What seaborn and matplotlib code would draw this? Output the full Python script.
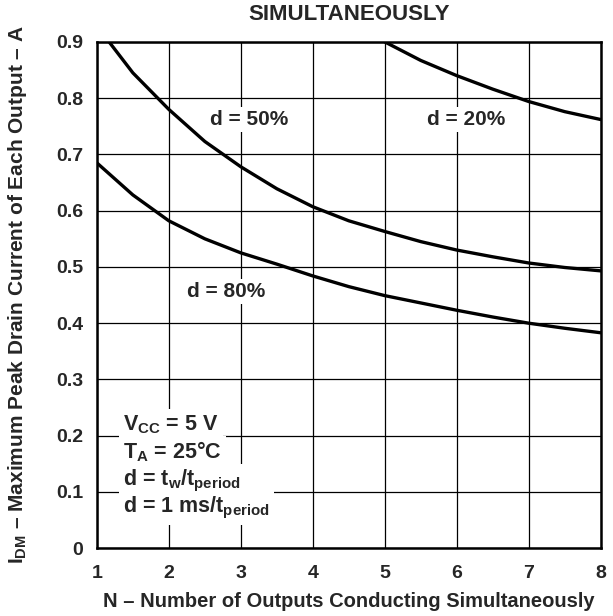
import pandas as pd
import matplotlib.pyplot as plt
import seaborn as sns

# ── DATA ──────────────────────────────────────────────────
n_20 = [5.0, 5.5, 6.0, 6.5, 7.0, 7.5, 8.0]
i_20 = [0.90, 0.867, 0.840, 0.816, 0.794, 0.776, 0.762]

n_50 = [1.17, 1.5, 2.0, 2.5, 3.0, 3.5, 4.0, 4.5, 5.0, 5.5, 6.0, 6.5, 7.0, 7.5, 8.0]
i_50 = [0.90, 0.845, 0.780, 0.723, 0.678, 0.639, 0.607, 0.582, 0.563, 0.545,
        0.530, 0.518, 0.507, 0.499, 0.493]

n_80 = [1.0, 1.5, 2.0, 2.5, 3.0, 3.5, 4.0, 4.5, 5.0, 5.5, 6.0, 6.5, 7.0, 7.5, 8.0]
i_80 = [0.685, 0.628, 0.582, 0.550, 0.525, 0.505, 0.484, 0.465, 0.449, 0.436,
        0.423, 0.411, 0.400, 0.391, 0.383]

x_ticks = [1, 2, 3, 4, 5, 6, 7, 8]
y_ticks = [0, 0.1, 0.2, 0.3, 0.4, 0.5, 0.6, 0.7, 0.8, 0.9]
y_ticklabels = ['0', '0.1', '0.2', '0.3', '0.4', '0.5', '0.6', '0.7', '0.8', '0.9']

df = pd.concat([
    pd.DataFrame({'N': n_20, 'I': i_20, 'd': '20%'}),
    pd.DataFrame({'N': n_50, 'I': i_50, 'd': '50%'}),
    pd.DataFrame({'N': n_80, 'I': i_80, 'd': '80%'}),
])

# ── STYLE ─────────────────────────────────────────────────
sns.set_style("white")
plt.rcParams['font.family'] = ['Liberation Sans', 'DejaVu Sans']
plt.rcParams['font.weight'] = 'bold'
plt.rcParams['mathtext.fontset'] = 'custom'
plt.rcParams['mathtext.rm'] = 'Liberation Sans:bold'
plt.rcParams['mathtext.bf'] = 'Liberation Sans:bold'
plt.rcParams['mathtext.it'] = 'Liberation Sans:bold'

fig = plt.figure(figsize=(6.13, 6.16), dpi=100)
ax = fig.add_axes([0.158, 0.110, 0.822, 0.822])

sns.lineplot(data=df, x='N', y='I', hue='d', units='d', estimator=None,
             palette=['black', 'black', 'black'], linewidth=2.4,
             legend=False, ax=ax, zorder=3)
for ln in ax.get_lines():
    ln.set_solid_joinstyle('round')

ax.set_xlim(1, 8)
ax.set_ylim(0, 0.9)
ax.set_xticks(x_ticks)
ax.set_yticks(y_ticks)
ax.set_yticklabels(y_ticklabels)
ax.grid(True, color='black', linewidth=0.9)
ax.tick_params(axis='both', length=0, labelsize=14)
ax.tick_params(axis='x', pad=12)
ax.tick_params(axis='y', pad=10)
for s in ax.spines.values():
    s.set_color('black')
    s.set_linewidth(1.8)
    s.set_zorder(5)

ax.set_xlabel('N – Number of Outputs Conducting Simultaneously',
              fontsize=14.5, fontweight='bold', labelpad=7)
ax.set_ylabel(r'$\mathbf{I_{DM}}$ – Maximum Peak Drain Current of Each Output – A',
              fontsize=15, fontweight='bold', labelpad=19)

box = dict(facecolor='white', edgecolor='none', pad=2)
ax.text(3.11, 0.762, 'd = 50%', ha='center', va='center', fontsize=15,
        fontweight='bold', bbox=box, zorder=4)
ax.text(6.13, 0.762, 'd = 20%', ha='center', va='center', fontsize=15,
        fontweight='bold', bbox=box, zorder=4)
ax.text(2.79, 0.456, 'd = 80%', ha='center', va='center', fontsize=15,
        fontweight='bold', bbox=box, zorder=4)

cond = [(0.220, r'$\mathregular{V_{CC}}$ = 5 V'),
        (0.171, r'$\mathregular{T_A}$ = 25°C'),
        (0.120, r'd = $\mathregular{t_w/t_{period}}$'),
        (0.072, r'd = 1 ms/$\mathregular{t_{period}}$')]
for yv, txt in cond:
    ax.text(1.37, yv, txt, ha='left', va='center', fontsize=15.5,
            fontweight='bold', bbox=dict(facecolor='white', edgecolor='none', pad=3),
            zorder=4)

fig.text(0.569, 1 - 14 / 616, 'SIMULTANEOUSLY', ha='center', va='center',
         fontsize=16, fontweight='bold')

plt.savefig('out.png', dpi=100)
